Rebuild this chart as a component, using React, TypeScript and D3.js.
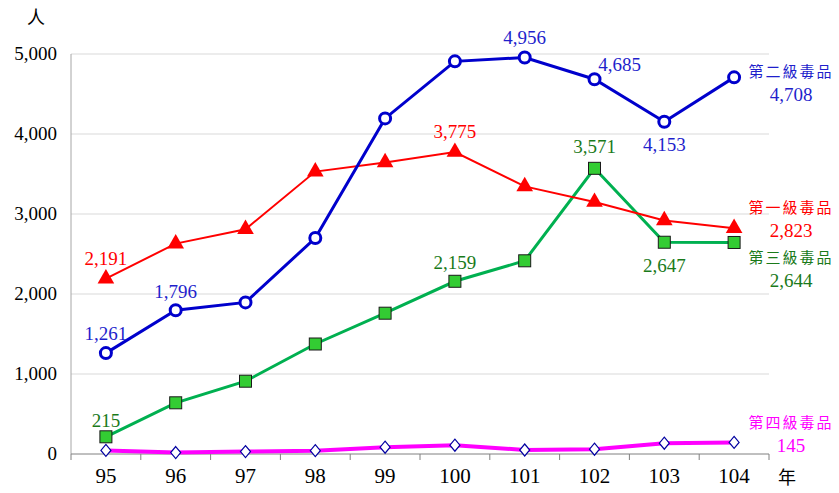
import React from "react";
import * as d3 from "d3";

const years = ["95", "96", "97", "98", "99", "100", "101", "102", "103", "104"];
const level2 = [1261, 1796, 1895, 2700, 4195, 4908, 4956, 4685, 4153, 4708];
const level1 = [2191, 2630, 2810, 3530, 3645, 3775, 3345, 3150, 2920, 2823];
const level3 = [215, 640, 910, 1375, 1760, 2159, 2415, 3571, 2647, 2644];
const level4 = [45, 18, 30, 42, 85, 110, 50, 60, 135, 145];
const yTicks = [0, 1000, 2000, 3000, 4000, 5000];

const W = 839, H = 493;
const left = 71, right = 769, top = 54, bottom = 454;

export default function App() {
  const x = d3.scaleBand().domain(years).range([left, right]);
  const y = d3.scaleLinear().domain([0, 5000]).range([bottom, top]);
  const cx = (i: number) => (x(years[i]) as number) + x.bandwidth() / 2;
  const line = d3.line<number>().x((_, i) => cx(i)).y((d) => y(d));
  const fmt = d3.format(",");
  const serif = "Liberation Serif, DejaVu Serif, serif";
  const cjk = "Noto Sans CJK TC, sans-serif";

  const tri = d3.symbol().type(d3.symbolTriangle).size(120)() as string;

  const label = (v: number, i: number, dx: number, dy: number, color: string) => (
    <text key={"l" + i + color} x={cx(i) + dx} y={y(v) + dy} fill={color} fontSize={19} textAnchor="middle" fontFamily={serif}>
      {fmt(v)}
    </text>
  );

  const blueT = "#1F1FCC", redT = "#FF0000", greenT = "#1A7A1A", magT = "#FF00FF";

  return (
    <svg width={W} height={H} style={{ display: "block", position: "absolute", left: 0, top: 0 }}>
      <rect width={W} height={H} fill="#fff" />
      {yTicks.slice(1).map((t) => (
        <line key={t} x1={left} x2={right} y1={y(t)} y2={y(t)} stroke="#D9D9D9" strokeWidth={1} />
      ))}
      <line x1={left} x2={left} y1={top} y2={bottom} stroke="#A6A6A6" />
      <line x1={left} x2={right} y1={bottom} y2={bottom} stroke="#808080" />
      {years.concat(["end"]).map((_, i) => {
        const xx = left + i * x.bandwidth();
        return <line key={"tk" + i} x1={xx} x2={xx} y1={bottom} y2={bottom + 6} stroke="#808080" />;
      })}
      {yTicks.map((t) => (
        <text key={"yt" + t} x={57} y={y(t) + 6} textAnchor="end" fontSize={19} fontFamily={serif} fill="#000">
          {fmt(t)}
        </text>
      ))}
      {years.map((yr, i) => (
        <text key={"xt" + yr} x={cx(i)} y={483} textAnchor="middle" fontSize={21} fontFamily={serif} fill="#000">
          {yr}
        </text>
      ))}
      <text x={36} y={24} textAnchor="middle" fontSize={18} fontFamily={cjk} fill="#000">人</text>
      <text x={787} y={484} textAnchor="middle" fontSize={18} fontFamily={cjk} fill="#000">年</text>

      {/* level 4 */}
      <path d={line(level4) as string} fill="none" stroke="#FF00FF" strokeWidth={4} />
      {level4.map((v, i) => (
        <path key={"d4" + i} d="M0,-6L5,0L0,6L-5,0Z" transform={`translate(${cx(i)},${y(v)})`} fill="#fff" stroke="#0000A0" strokeWidth={1.2} />
      ))}

      {/* level 3 */}
      <path d={line(level3) as string} fill="none" stroke="#00B050" strokeWidth={3} />
      {level3.map((v, i) => (
        <rect key={"s3" + i} x={cx(i) - 6} y={y(v) - 6} width={12} height={12} fill="#33CC33" stroke="#1a1a1a" strokeWidth={1} />
      ))}

      {/* level 1 */}
      <path d={line(level1) as string} fill="none" stroke="#FF0000" strokeWidth={2} />
      {level1.map((v, i) => (
        <path key={"t1" + i} d={tri} transform={`translate(${cx(i)},${y(v)})`} fill="#FF0000" />
      ))}

      {/* level 2 */}
      <path d={line(level2) as string} fill="none" stroke="#0000CC" strokeWidth={3} />
      {level2.map((v, i) => (
        <circle key={"c2" + i} cx={cx(i)} cy={y(v)} r={5.5} fill="#fff" stroke="#0000CC" strokeWidth={3} />
      ))}

      {/* data labels */}
      {label(level2[0], 0, 0, -13, blueT)}
      {label(level2[1], 1, 0, -12, blueT)}
      {label(level2[6], 6, 0, -14, blueT)}
      {label(level2[7], 7, 25, -8, blueT)}
      {label(level2[8], 8, 0, 29, blueT)}
      {label(level1[0], 0, 0, -14, redT)}
      {label(level1[5], 5, 0, -14, redT)}
      {label(level3[0], 0, 0, -10, greenT)}
      {label(level3[5], 5, 0, -12, greenT)}
      {label(level3[7], 7, 0, -15, greenT)}
      {label(level3[8], 8, 0, 30, greenT)}

      {/* right-side series labels */}
      {[
        { name: "第二級毒品", v: level2[9], c: blueT, y0: 77 },
        { name: "第一級毒品", v: level1[9], c: redT, y0: 213 },
        { name: "第三級毒品", v: level3[9], c: greenT, y0: 263 },
        { name: "第四級毒品", v: level4[9], c: magT, y0: 428 },
      ].map((s) => (
        <g key={s.name}>
          <text x={791} y={s.y0} textAnchor="middle" fontSize={15} letterSpacing={2} fontFamily={cjk} fill={s.c}>{s.name}</text>
          <text x={791} y={s.y0 + 24} textAnchor="middle" fontSize={19} fontFamily={serif} fill={s.c}>{fmt(s.v)}</text>
        </g>
      ))}
    </svg>
  );
}
